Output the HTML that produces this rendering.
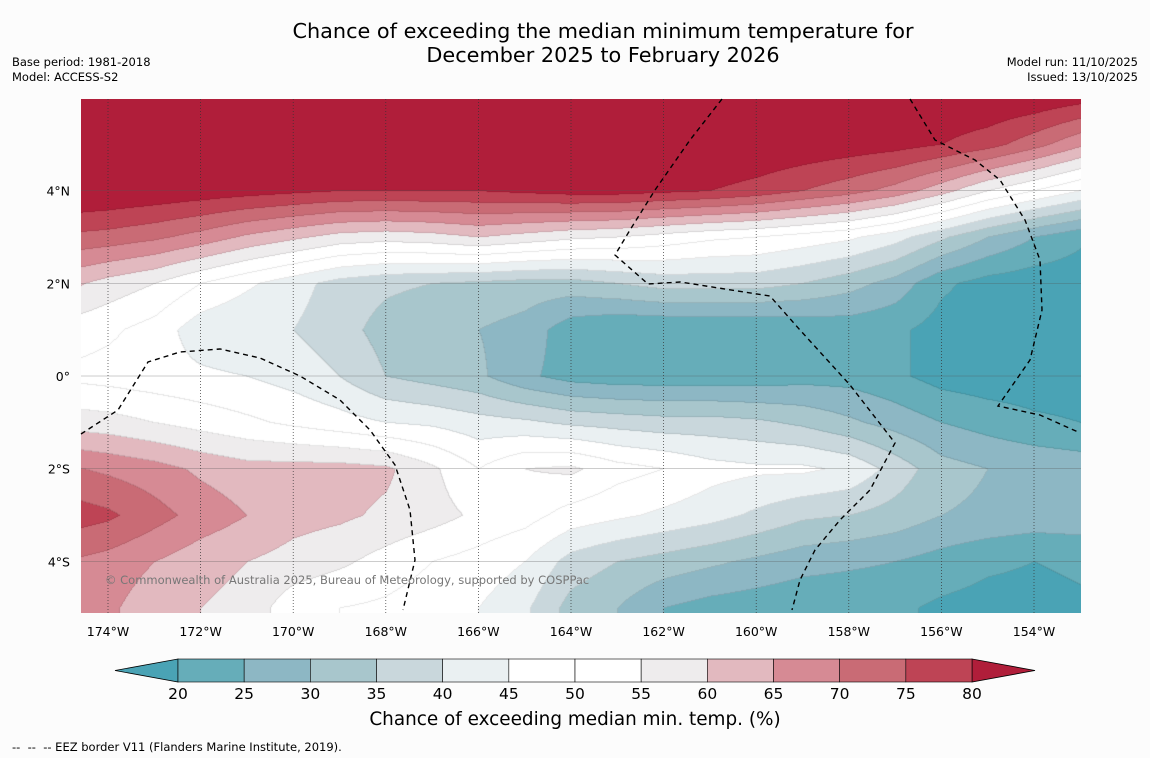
<!DOCTYPE html>
<html><head><meta charset="utf-8">
<style>
body{margin:0;width:1150px;height:758px;background:#fcfcfc;font-family:"DejaVu Sans","Liberation Sans",sans-serif;position:relative;overflow:hidden}
.t{position:absolute;white-space:nowrap;color:#000}
</style></head><body>
<div class="t" style="left:0;width:1206px;text-align:center;top:19px;font-size:20.8px;line-height:24px">Chance of exceeding the median minimum temperature for<br>December 2025 to February 2026</div>
<div class="t" style="left:12px;top:55px;font-size:11.5px;line-height:15px">Base period: 1981-2018<br>Model: ACCESS-S2</div>
<div class="t" style="right:12px;top:55px;font-size:11.5px;line-height:15px;text-align:right">Model run: 11/10/2025<br>Issued: 13/10/2025</div>
<canvas id="map" width="1000" height="514" style="position:absolute;left:81px;top:99px"></canvas>
<svg id="ov" width="1150" height="758" style="position:absolute;left:0;top:0"></svg>
<div class="t" style="left:105px;top:573px;font-size:11.5px;color:#777">© Commonwealth of Australia 2025, Bureau of Meteorology, supported by COSPPac</div>
<div class="t" style="left:0;width:1150px;text-align:center;top:709px;font-size:18.4px">Chance of exceeding median min. temp. (%)</div>
<div class="t" style="left:12px;top:740px;font-size:11.5px">--&nbsp; --&nbsp; -- EEZ border V11 (Flanders Marine Institute, 2019).</div>
<script>
const lons=[175,174,173,172,171,170,169,168,167,166,165,164,163,162,161,160,159,158,157,156,155,154,153];
const lats=[6,5,4,3,2,1,0,-1,-2,-3,-4,-5];
const r6N=[85,85,85,85,85,85,85,85,85,85,85,85,85,85,85,85,85,85,85,85,85,84,82];
const r5N=[86,86,86,86,86,86,86,86,86,86,86,86,86,86,86,85,84,83,82,80,77,72,66];
const r4N=[86,85,84,83,82,81,80,80,80,80,81,82,82,81,80,78,75,72,68,62,55,50,45];
const r3N=[74,73,71,68,64,61,58,57,58,60,58,56,55,53,51,50,48,46,42,36,30,25,21];
const r2N=[62,58,55,50,46,42,38,36,35,34,33,33,35,37,37,37,35,32,28,21,18,17,17];
const r1N=[53,51,48,42,40,40,37,33,31,30,28,22,20,20,20,20,21,22,21,18,17,17,17];
const r0=[49,48,47,46,45,43,40,35,33,31,26,23,22,22,22,22,23,23,21,18,17,17,17];
const r1S=[58,57,55,53,51,49,47,45,44,42,41,39,38,37,37,36,34,31,28,25,23,21,20];
const r2S=[71,69,67,64,62,62,62,61,56,50,55,56,52,50,47,46,46,44,38,32,30,29,28];
const r3S=[78,76,72,68,65,62,61,59,57,54,52,48,46,44,42,39,36,35,33,30,29,28,28];
const r4S=[70,68,65,62,60,58,56,53,50,48,45,38,35,33,31,29,27,26,25,23,21,20,21];
const r5S=[68,66,62,60,58,52,50,49,47,45,41,33,30,25,23,22,21,21,21,19,18,18,19];
const grid=[r6N,r5N,r4N,r3N,r2N,r1N,r0,r1S,r2S,r3S,r4S,r5S];
const levels=[20,25,30,35,40,45,50,55,60,65,70,75,80];
const colors=["#4aa3b5","#66adb9","#8db7c4","#a8c6cc","#c9d7dc","#eaf0f2","#ffffff","#ffffff","#eeeced","#e2b9bf","#d68a94","#c96b75","#be4455","#b01e3a"];
const tickLons=[174,172,170,168,166,164,162,160,158,156,154];
const tickLats=[4,2,0,-2,-4];
const X0=81,Y0=99;
function xOf(lonW){return 108+(174-lonW)*46.3;}
function yOf(lat){return 376-lat*46.35;}
function lonAt(x){return 174-(x-108)/46.3;}
function latAt(y){return (376-y)/46.35;}
function val(x,y){
 let fi=(lons[0]-lonAt(x)); let fj=(lats[0]-latAt(y));
 fi=Math.max(0,Math.min(lons.length-1.0001,fi)); fj=Math.max(0,Math.min(lats.length-1.0001,fj));
 const i=Math.floor(fi),j=Math.floor(fj),a=fi-i,b=fj-j;
 return grid[j][i]*(1-a)*(1-b)+grid[j][i+1]*a*(1-b)+grid[j+1][i]*(1-a)*b+grid[j+1][i+1]*a*b;
}
function cls(v){let k=0;while(k<levels.length&&v>=levels[k])k++;return k;}
const cv=document.getElementById('map'),ctx=cv.getContext('2d');
const W=1000,H=514,img=ctx.createImageData(W,H);
const C=new Uint8Array(W*H);
for(let y=0;y<H;y++)for(let x=0;x<W;x++)C[y*W+x]=cls(val(x+X0,y+Y0));
function hex(h){return[parseInt(h.substr(1,2),16),parseInt(h.substr(3,2),16),parseInt(h.substr(5,2),16)];}
const rgb=colors.map(hex);
for(let y=0;y<H;y++)for(let x=0;x<W;x++){
 const k=C[y*W+x];let c=rgb[k];
 const edge=(x<W-1&&C[y*W+x+1]!==k)||(y<H-1&&C[(y+1)*W+x]!==k);
 const o=(y*W+x)*4;const f=edge?0.9:1;
 img.data[o]=c[0]*f;img.data[o+1]=c[1]*f;img.data[o+2]=c[2]*f;img.data[o+3]=255;
}
ctx.putImageData(img,0,0);
const NS='http://www.w3.org/2000/svg',ov=document.getElementById('ov');
function mk(t,a,p){const e=document.createElementNS(NS,t);for(const k in a)e.setAttribute(k,a[k]);(p||ov).appendChild(e);return e;}
tickLons.forEach(l=>{const x=xOf(l);
 const g=mk('line',{x1:x,y1:99,x2:x,y2:613,stroke:'#333','stroke-width':0.7,'stroke-dasharray':'1,2'});
 
 
 const t=mk('text',{x:x,y:636,'font-size':12.5,'text-anchor':'middle','font-family':'DejaVu Sans'});t.textContent=l+'°W';
 
 
});
tickLats.forEach(l=>{const y=yOf(l);
 const g=mk('line',{x1:81,y1:y,x2:1081,y2:y,stroke:'#555','stroke-width':0.5,'stroke-opacity':0.6});
 
 
 const t=mk('text',{x:70,y:y+5,'font-size':12.5,'text-anchor':'end','font-family':'DejaVu Sans'});t.textContent=l===0?'0°':Math.abs(l)+'°'+(l>0?'N':'S');
 
 
});
const eez=["M81,434 L118,410 L148,362 L180,352 L220,349 L260,358 L300,376 L340,400 L370,430 L395,465 L410,510 L415,560 L403,610",
"M722,99 L690,140 L655,190 L630,230 L615,255 L648,284 L680,282 L770,296 L800,330 L850,385 L895,443 L870,490 L840,520 L815,550 L800,580 L792,610",
"M910,99 L935,140 L975,160 L1000,180 L1025,220 L1040,260 L1042,310 L1030,360 L998,406 L1040,415 L1078,432"];
eez.forEach(d=>{const p=mk('path',{d:d,fill:'none',stroke:'#000','stroke-width':1.4,'stroke-dasharray':'5,4'});
 
 });
const cbx0=178,cbx1=972,cbw=(cbx1-cbx0)/12,cy=659,ch=23;
const L=mk('polygon',{points:`${cbx0},${cy} 115,${cy+ch/2} ${cbx0},${cy+ch}`,fill:colors[0],stroke:'#000','stroke-width':0.8});


const R=mk('polygon',{points:`${cbx1},${cy} 1035,${cy+ch/2} ${cbx1},${cy+ch}`,fill:colors[13],stroke:'#000','stroke-width':0.8});


for(let i=0;i<12;i++){const r=mk('rect',{x:cbx0+i*cbw,y:cy,width:cbw,height:ch,fill:colors[i+1],stroke:'#000','stroke-width':0.6});
 
 }
levels.forEach((v,i)=>{const t=mk('text',{x:cbx0+i*cbw,y:699,'font-size':15.5,'text-anchor':'middle','font-family':'DejaVu Sans'});t.textContent=v;
 
 });
</script>
</body></html>
